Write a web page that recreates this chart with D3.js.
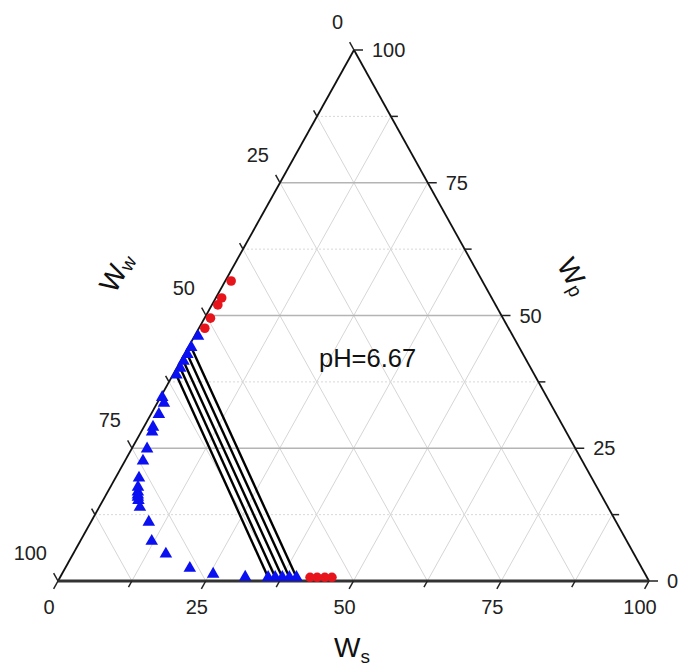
<!DOCTYPE html>
<html><head><meta charset="utf-8">
<script src="https://cdn.jsdelivr.net/npm/d3@7"></script>
<style>body{margin:0;background:#fff} svg{display:block}</style>
</head><body><svg id="c" width="680" height="667"></svg>
<script>
// ---- data ----
const majorTicks = [0, 25, 50, 75, 100];
const minorTicks = [12.5, 37.5, 62.5, 87.5];
const gridSteps = [12.5, 25, 37.5, 50, 62.5, 75, 87.5];
const majorGrid = [25, 50, 75];

// binodal points (blue triangles): Ws, Wp (%)
const binodalWs = [0.6, 0.5, 0.5, 0.5, 0.6, 0.6, 0.3, 1.15, 1.34, 1.55, 1.85, 2.6, 3.06, 3.99, 4.67, 5.1, 5.4, 5.6, 6.0, 6.9, 9.8, 12.1, 15.7, 21.1, 25.6, 31.3, 35.2, 36.4, 37.6, 38.8, 40.0];
const binodalWp = [46.1, 44.0, 42.7, 41.4, 40.1, 38.8, 34.6, 33.5, 31.4, 29.0, 28.1, 24.9, 22.6, 19.4, 17.7, 16.8, 16.2, 15.8, 15.2, 13.9, 11.1, 7.5, 5.1, 2.4, 1.3, 0.75, 0.7, 0.7, 0.7, 0.7, 0.7];

// tie lines: top-phase and bottom-phase ends
const tieTopWs = [0.5, 0.5, 0.5, 0.6, 0.6];
const tieTopWp = [44.0, 42.7, 41.4, 40.1, 38.8];
const tieBotWs = [40.0, 38.8, 37.6, 36.4, 35.2];
const tieBotWp = [0.7, 0.7, 0.7, 0.7, 0.7];

// red circles: Ws, Wp
const redWs = [1.0, 1.0, 1.0, 1.0, 1.0, 42.3, 43.5, 44.8, 46.0];
const redWp = [56.5, 53.3, 52.0, 49.5, 47.6, 0.7, 0.7, 0.7, 0.7];

const phLabel = "pH=6.67";

// ---- geometry ----
const L = {x: 58, y: 581}, R = {x: 649, y: 581}, T = {x: 354, y: 50};
const sX = d3.scaleLinear().domain([0, 100]).range([0, R.x - L.x]);   // Ws -> x shift
const pX = d3.scaleLinear().domain([0, 100]).range([0, T.x - L.x]);   // Wp -> x shift
const pY = d3.scaleLinear().domain([0, 100]).range([L.y, T.y]);       // Wp -> y
const P = (ws, wp) => [L.x + sX(ws) + pX(wp), pY(wp)];

const svg = d3.select("#c");
const FONT = "'Liberation Sans', Arial, sans-serif";

// ---- grid ----
const g = svg.append("g");
gridSteps.forEach(v => {
  const a = P(v, 0), b = P(v, 100 - v);
  g.append("line").attr("x1", a[0]).attr("y1", a[1]).attr("x2", b[0]).attr("y2", b[1])
    .attr("stroke", "#d6d6d6").attr("stroke-width", 1);
});
gridSteps.forEach(v => {
  const a = P(100 - v, 0), b = P(0, 100 - v);
  g.append("line").attr("x1", a[0]).attr("y1", a[1]).attr("x2", b[0]).attr("y2", b[1])
    .attr("stroke", "#d6d6d6").attr("stroke-width", 1);
});
gridSteps.forEach(v => {
  const a = P(0, v), b = P(100 - v, v);
  const major = majorGrid.includes(v);
  g.append("line").attr("x1", a[0]).attr("y1", a[1]).attr("x2", b[0]).attr("y2", b[1])
    .attr("stroke", major ? "#b4b4b4" : "#d8d8d8")
    .attr("stroke-width", major ? 1.6 : 1)
    .attr("stroke-dasharray", major ? null : "2,2");
});

// ---- frame ----
const ax = svg.append("g");
ax.append("line").attr("x1", L.x).attr("y1", L.y).attr("x2", T.x).attr("y2", T.y).attr("stroke", "#111").attr("stroke-width", 1.8);
ax.append("line").attr("x1", R.x).attr("y1", R.y).attr("x2", T.x).attr("y2", T.y).attr("stroke", "#111").attr("stroke-width", 1.8);
ax.append("line").attr("x1", L.x).attr("y1", L.y).attr("x2", R.x).attr("y2", R.y).attr("stroke", "#333").attr("stroke-width", 2.8);

const len = Math.hypot(T.x - L.x, T.y - L.y);
const dB = [-(T.x - L.x) / len, (L.y - T.y) / len];
const dL = [-(R.x - T.x) / len, -(R.y - T.y) / len];
const allTicks = majorTicks.map(v => ({v, major: true})).concat(minorTicks.map(v => ({v, major: false})));

allTicks.forEach(t => {
  const k = t.major ? 9 : 7;
  let p = P(t.v, 0);
  ax.append("line").attr("x1", p[0]).attr("y1", p[1]).attr("x2", p[0] + dB[0] * k).attr("y2", p[1] + dB[1] * k)
    .attr("stroke", "#222").attr("stroke-width", 1.5);
  p = P(100 - t.v, t.v);
  ax.append("line").attr("x1", p[0]).attr("y1", p[1]).attr("x2", p[0] + k).attr("y2", p[1])
    .attr("stroke", "#222").attr("stroke-width", 1.5);
  p = P(0, 100 - t.v);
  ax.append("line").attr("x1", p[0]).attr("y1", p[1]).attr("x2", p[0] + dL[0] * k).attr("y2", p[1] + dL[1] * k)
    .attr("stroke", "#222").attr("stroke-width", 1.5);
});

const lab = svg.append("g").attr("font-family", FONT).attr("font-size", 20).attr("fill", "#222");
majorTicks.forEach(v => {
  let p = P(v, 0);
  lab.append("text").attr("x", p[0] - 9).attr("y", p[1] + 26).attr("text-anchor", "middle")
    .attr("dominant-baseline", "central").text(v);
  p = P(100 - v, v);
  lab.append("text").attr("x", p[0] + 18).attr("y", p[1]).attr("text-anchor", "start")
    .attr("dominant-baseline", "central").text(v);
  p = P(0, 100 - v);
  lab.append("text").attr("x", p[0] - 11).attr("y", p[1] - 28).attr("text-anchor", "end")
    .attr("dominant-baseline", "central").text(v);
});

// ---- axis titles ----
const tt = svg.append("g").attr("font-family", FONT).attr("fill", "#111");
const ws = tt.append("text").attr("x", 334).attr("y", 657).attr("font-size", 28);
ws.append("tspan").text("W");
ws.append("tspan").attr("font-size", 19).attr("dy", 6).text("s");

const ww = tt.append("text").attr("transform", "translate(116,272) rotate(-61)")
  .attr("text-anchor", "middle").attr("dominant-baseline", "central").attr("font-size", 28);
ww.append("tspan").text("W");
ww.append("tspan").attr("font-size", 19).attr("dy", 6).text("w");

const wp = tt.append("text").attr("transform", "translate(574,276) rotate(61)")
  .attr("text-anchor", "middle").attr("dominant-baseline", "central").attr("font-size", 28);
wp.append("tspan").text("W");
wp.append("tspan").attr("font-size", 19).attr("dy", 6).text("p");

// ---- tie lines ----
const tl = svg.append("g");
tieTopWs.forEach((_, i) => {
  const a = P(tieTopWs[i], tieTopWp[i]), b = P(tieBotWs[i], tieBotWp[i]);
  tl.append("line").attr("x1", a[0]).attr("y1", a[1]).attr("x2", b[0]).attr("y2", b[1])
    .attr("stroke", "#000").attr("stroke-width", 2.4);
});

// ---- markers ----
const tri = d3.symbol().type(d3.symbolTriangle).size(68);
svg.append("g").selectAll("path").data(binodalWs.map((w, i) => P(w, binodalWp[i])))
  .join("path").attr("d", tri).attr("transform", d => `translate(${d[0]},${d[1]})`)
  .attr("fill", "#0a10f0");

svg.append("g").selectAll("circle").data(redWs.map((w, i) => P(w, redWp[i])))
  .join("circle").attr("cx", d => d[0]).attr("cy", d => d[1]).attr("r", 4.8)
  .attr("fill", "#e8141c");

svg.append("text").attr("x", 319).attr("y", 367).attr("font-family", FONT).attr("font-size", 25.5)
  .attr("fill", "#111").text(phLabel);
</script>
</body></html>
